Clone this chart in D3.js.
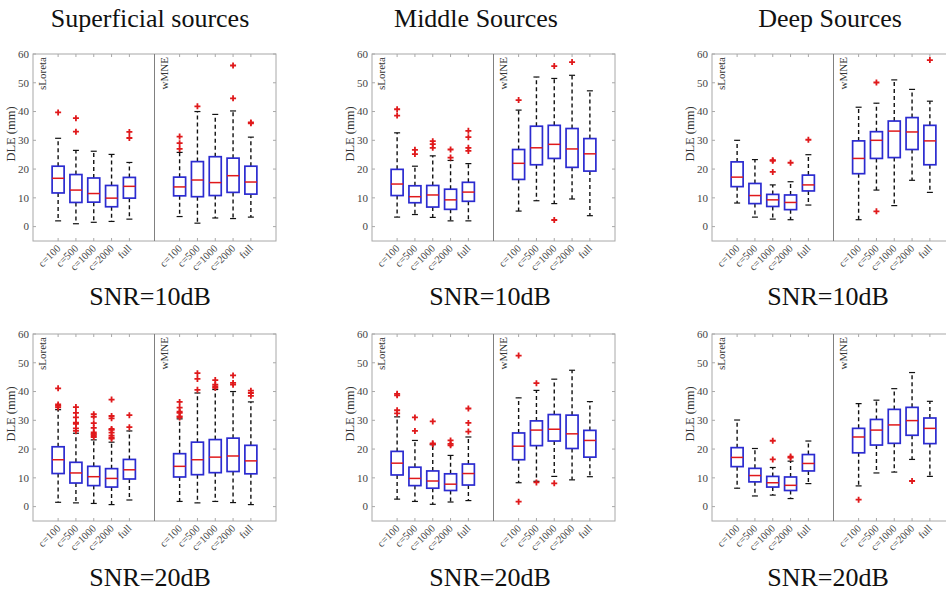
<!DOCTYPE html>
<html>
<head>
<meta charset="utf-8">
<script src="https://cdn.jsdelivr.net/npm/d3@7"></script>
<style>
  body { margin: 0; background: #fff; }
  svg { display: block; font-family: "Liberation Serif", "DejaVu Serif", serif; }
</style>
</head>
<body>
<div id="chart"></div>
<script>
const categories = ['c=100', 'c=500', 'c=1000', 'c=2000', 'full'];
const methods = ['sLoreta', 'wMNE'];
const sourceTitles = ['Superficial sources', 'Middle Sources', 'Deep Sources'];
const snrLabels = ['SNR=10dB', 'SNR=20dB'];
const yTicks = [0, 10, 20, 30, 40, 50, 60];

// each row: [lower whisker, q1, median, q3, upper whisker]
const sup10Sl = [[2, 11.7, 16.8, 21, 30.7], [1, 8.4, 12.7, 18.1, 26.5], [1.5, 8.5, 11.5, 16.9, 26.2], [1.8, 6.9, 9.9, 14.3, 25.1], [2.6, 9.9, 14, 17.1, 22.3]];
const sup10SlOut = [[39.7], [37.7, 33], [], [], [32.9, 30.8]];
const sup10Wm = [[3.5, 10.7, 13.8, 17.2, 25.8], [1.2, 10.4, 16.2, 22.6, 40], [3, 10.8, 15.3, 24.3, 39], [2.8, 11.9, 17.7, 23.8, 40.2], [3.3, 11.3, 15.5, 21, 31.1]];
const sup10WmOut = [[31.3, 29, 27], [41.8], [], [56, 44.6], [36.2, 35.9]];

const mid10Sl = [[3.3, 10.8, 14.8, 19.9, 32.6], [4.2, 8.3, 10.4, 14.2, 21], [3.2, 6.8, 11, 14.3, 24.6], [2, 6, 9.3, 13, 23], [2, 8.8, 12, 15.4, 21.9]];
const mid10SlOut = [[40.8, 38.6], [26.7, 25.2], [29.7, 28.7, 27.4], [26.8, 24], [33.3, 31.1, 27.4, 26.3]];
const mid10Wm = [[5.4, 16.4, 22, 26.8, 40.5], [9, 21.5, 27.4, 34.9, 52], [8, 23.7, 28.6, 35.2, 51.5], [9.6, 20.6, 27, 34.1, 52.6], [3.8, 19.3, 25.3, 30.6, 47.2]];
const mid10WmOut = [[44], [], [55.8, 2.3], [57.2], []];

const deep10Sl = [[8.2, 13.9, 17.2, 22.5, 30], [3.3, 8, 10.8, 15, 23.3], [2.6, 7, 9.3, 11.2, 14.5], [2.4, 5.9, 8.4, 11, 15.6], [7.5, 12.4, 14.5, 17.9, 25]];
const deep10SlOut = [[], [], [23.1, 22.9, 19], [22.2], [30.2]];
const deep10Wm = [[2.4, 18.4, 23.7, 29.8, 41.5], [12.7, 23.7, 30, 33, 42.9], [7.3, 24, 33.2, 36.7, 51], [16.1, 26.8, 32.9, 37.9, 47.7], [11.9, 21.5, 29.8, 35.2, 43.6]];
const deep10WmOut = [[], [50.1, 5.3], [], [], [57.9]];

const sup20Sl = [[1.5, 11.5, 16.3, 20.8, 33.7], [1.3, 8.2, 11.7, 15.4, 25.5], [1.1, 7.3, 10.4, 14, 23.2], [0.7, 6.8, 9.8, 13.2, 22.4], [2.3, 9.6, 12.8, 16.4, 26.3]];
const sup20SlOut = [[41.1, 35.5, 35, 34.5], [34.6, 32.6, 31, 29.2, 28.8, 27.2, 26.3], [32.1, 31.2, 29, 27.4, 25.8, 25.3, 24.8, 24.2], [37.2, 31.5, 30.7, 27, 26.7, 25.7, 24.7, 24, 23.6], [31.8, 27.6]];
const sup20Wm = [[1.8, 10.3, 14, 18.4, 30.5], [1.3, 11.1, 16.3, 22.4, 39.5], [1.8, 11.8, 17.2, 23.3, 40.7], [1.4, 12.2, 17.6, 23.8, 40], [0.7, 11.4, 15.9, 21.3, 36.4]];
const sup20WmOut = [[36.4, 34.4, 33, 32.6, 31.4, 31], [46.4, 44.4, 40.6], [44, 42.4, 41.8, 41.3], [45.6, 43, 42.4], [40.3, 39.5, 38.5]];

const mid20Sl = [[2.6, 11, 15.1, 19.2, 31.2], [1.8, 7.3, 9.8, 13.7, 23], [0.8, 6.4, 8.9, 12.4, 21.5], [1.6, 5.6, 7.8, 11.4, 17.8], [2.1, 7.5, 11.5, 14.8, 24.2]];
const mid20SlOut = [[39.2, 38.7, 33.5, 32.4], [31, 26.3], [29.6, 22, 21.7], [23, 21.8, 21.3], [34.1, 29.1, 26.1]];
const mid20Wm = [[8.3, 16.3, 21, 25.6, 37.8], [8.8, 21.2, 26.6, 29.8, 40.4], [10.5, 22.8, 26.9, 32, 44.3], [9.3, 20.2, 25.3, 31.8, 47.4], [10.4, 17.2, 23, 26.5, 36.5]];
const mid20WmOut = [[52.5, 1.7], [42.9, 8.4], [8.1], [], []];

const deep20Sl = [[6.4, 13.9, 17.1, 20.5, 30.1], [3.7, 8.6, 10.8, 13.3, 20.2], [4, 6.8, 8.3, 10.5, 13.6], [2.8, 5.6, 7.4, 10.3, 15.8], [8, 12.4, 15, 18.1, 22.8]];
const deep20SlOut = [[], [], [22.9, 16.4], [17.4, 17], []];
const deep20Wm = [[7.2, 18.7, 24.2, 27.2, 35.8], [11.7, 21.4, 26.6, 30.3, 37], [12, 22, 28.4, 33.8, 41], [16.4, 24.8, 29.9, 34.5, 46.6], [10.5, 21.9, 27.2, 30.8, 36.6]];
const deep20WmOut = [[2.4], [], [], [8.9], []];

const grid = [
  [[sup10Sl, sup10SlOut, sup10Wm, sup10WmOut], [mid10Sl, mid10SlOut, mid10Wm, mid10WmOut], [deep10Sl, deep10SlOut, deep10Wm, deep10WmOut]],
  [[sup20Sl, sup20SlOut, sup20Wm, sup20WmOut], [mid20Sl, mid20SlOut, mid20Wm, mid20WmOut], [deep20Sl, deep20SlOut, deep20Wm, deep20WmOut]]
];

const width = 946, height = 595;
const panelX = [33, 372, 712];
const panelY = [54, 334];
const halfW = 121.5, plotH = 187;
const titleX = [150, 476, 830];
const snrX = [150, 490, 828];

const svg = d3.select('#chart').append('svg')
  .attr('width', width)
  .attr('height', height);

const frameColor = '#a8a8a8';
const tickTextColor = '#444';

// column titles
svg.append('g').selectAll('text')
  .data(sourceTitles)
  .enter().append('text')
  .attr('x', (d, i) => titleX[i])
  .attr('y', 27)
  .attr('text-anchor', 'middle')
  .attr('font-size', 26)
  .attr('fill', '#111')
  .text(d => d);

grid.forEach((row, ri) => {
  const y0 = panelY[ri];
  const y = d3.scaleLinear().domain([-5, 60]).range([y0 + plotH, y0]);

  row.forEach((cell, ci) => {
    const x0 = panelX[ci];
    const g = svg.append('g');

    // SNR label under each panel
    svg.append('text')
      .attr('x', snrX[ci])
      .attr('y', ri === 0 ? 305 : 586)
      .attr('text-anchor', 'middle')
      .attr('font-size', 26)
      .attr('fill', '#111')
      .text(snrLabels[ri]);

    // y axis labels
    g.append('g').selectAll('text')
      .data(yTicks)
      .enter().append('text')
      .attr('x', x0 - 4)
      .attr('y', d => y(d))
      .attr('dy', '0.35em')
      .attr('text-anchor', 'end')
      .attr('font-size', 11)
      .attr('fill', tickTextColor)
      .text(d => d);

    g.append('text')
      .attr('transform', `translate(${x0 - 18},${y0 + 80}) rotate(-90)`)
      .attr('text-anchor', 'middle')
      .attr('font-size', 12.5)
      .attr('fill', '#333')
      .text('DLE (mm)');

    // left ticks and right ticks
    g.append('g').selectAll('line')
      .data(yTicks)
      .enter().append('line')
      .attr('x1', x0).attr('x2', x0 + 3)
      .attr('y1', d => y(d)).attr('y2', d => y(d))
      .attr('stroke', frameColor);
    g.append('g').selectAll('line')
      .data(yTicks)
      .enter().append('line')
      .attr('x1', x0 + 2 * halfW).attr('x2', x0 + 2 * halfW - 3)
      .attr('y1', d => y(d)).attr('y2', d => y(d))
      .attr('stroke', frameColor);

    methods.forEach((m, mi) => {
      const stats = cell[mi * 2];
      const outs = cell[mi * 2 + 1];
      const hx = x0 + mi * halfW;
      const x = d3.scalePoint().domain(categories).range([hx, hx + halfW]).padding(1.41);
      const bw = 6;

      // top and bottom ticks
      g.append('g').selectAll('line')
        .data(categories)
        .enter().append('line')
        .attr('x1', d => x(d)).attr('x2', d => x(d))
        .attr('y1', y0).attr('y2', y0 + 3)
        .attr('stroke', frameColor);
      g.append('g').selectAll('line')
        .data(categories)
        .enter().append('line')
        .attr('x1', d => x(d)).attr('x2', d => x(d))
        .attr('y1', y0 + plotH).attr('y2', y0 + plotH - 3)
        .attr('stroke', frameColor);

      // x tick labels
      g.append('g').selectAll('text')
        .data(categories)
        .enter().append('text')
        .attr('transform', d => `translate(${x(d) + 3},${y0 + plotH + 8}) rotate(-45)`)
        .attr('text-anchor', 'end')
        .attr('font-size', 10.5)
        .attr('fill', tickTextColor)
        .text(d => d);

      // method label
      g.append('text')
        .attr('transform', `translate(${hx + 13},${y0 + 3}) rotate(-90)`)
        .attr('text-anchor', 'end')
        .attr('font-size', 11)
        .attr('fill', '#333')
        .text(m);

      const boxes = g.append('g').selectAll('g')
        .data(stats.map((s, i) => ({ cat: categories[i], s: s, out: outs[i] })))
        .enter().append('g');

      // whiskers
      boxes.append('line')
        .attr('x1', d => x(d.cat)).attr('x2', d => x(d.cat))
        .attr('y1', d => y(d.s[3])).attr('y2', d => y(d.s[4]))
        .attr('stroke', '#111').attr('stroke-width', 1.4)
        .attr('stroke-dasharray', '4,3');
      boxes.append('line')
        .attr('x1', d => x(d.cat)).attr('x2', d => x(d.cat))
        .attr('y1', d => y(d.s[1])).attr('y2', d => y(d.s[0]))
        .attr('stroke', '#111').attr('stroke-width', 1.4)
        .attr('stroke-dasharray', '4,3');
      boxes.append('line')
        .attr('x1', d => x(d.cat) - 3).attr('x2', d => x(d.cat) + 3)
        .attr('y1', d => y(d.s[4])).attr('y2', d => y(d.s[4]))
        .attr('stroke', '#111').attr('stroke-width', 1.2);
      boxes.append('line')
        .attr('x1', d => x(d.cat) - 3).attr('x2', d => x(d.cat) + 3)
        .attr('y1', d => y(d.s[0])).attr('y2', d => y(d.s[0]))
        .attr('stroke', '#111').attr('stroke-width', 1.2);

      // box
      boxes.append('rect')
        .attr('x', d => x(d.cat) - bw)
        .attr('width', bw * 2)
        .attr('y', d => y(d.s[3]))
        .attr('height', d => y(d.s[1]) - y(d.s[3]))
        .attr('fill', '#fff')
        .attr('stroke', '#2b2bd0')
        .attr('stroke-width', 1.7);

      // median
      boxes.append('line')
        .attr('x1', d => x(d.cat) - bw).attr('x2', d => x(d.cat) + bw)
        .attr('y1', d => y(d.s[2])).attr('y2', d => y(d.s[2]))
        .attr('stroke', '#e0191b').attr('stroke-width', 1.5);

      // outliers
      boxes.selectAll('path')
        .data(d => d.out.map(v => ({ cat: d.cat, v: v })))
        .enter().append('path')
        .attr('d', d => {
          const cx = x(d.cat), cy = y(d.v);
          return `M${cx - 3},${cy}H${cx + 3}M${cx},${cy - 3}V${cy + 3}`;
        })
        .attr('stroke', '#e0191b')
        .attr('stroke-width', 1.8)
        .attr('fill', 'none');
    });

    // frame and divider
    g.append('rect')
      .attr('x', x0).attr('y', y0)
      .attr('width', 2 * halfW).attr('height', plotH)
      .attr('fill', 'none')
      .attr('stroke', frameColor);
    g.append('line')
      .attr('x1', x0 + halfW).attr('x2', x0 + halfW)
      .attr('y1', y0).attr('y2', y0 + plotH)
      .attr('stroke', '#808080');
  });
});
</script>
</body>
</html>
